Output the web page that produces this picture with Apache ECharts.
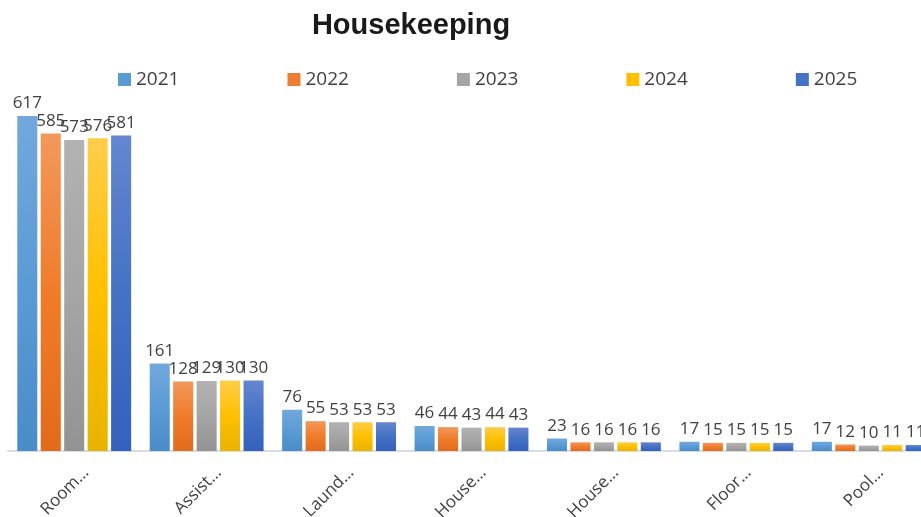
<!DOCTYPE html>
<html><head><meta charset="utf-8">
<script src="https://cdn.jsdelivr.net/npm/echarts@6/dist/echarts.min.js"></script>
<style>html,body{margin:0;padding:0;background:#fff}#c{width:921px;height:517px}</style>
</head><body><div id="c"></div>
<script>
const categories = ["Room…", "Assist…", "Laund…", "House…", "House…", "Floor…", "Pool…"];
const seriesNames = ["2021", "2022", "2023", "2024", "2025"];
const v2021 = [617, 161, 76, 46, 23, 17, 17];
const v2022 = [585, 128, 55, 44, 16, 15, 12];
const v2023 = [573, 129, 53, 43, 16, 15, 10];
const v2024 = [576, 130, 53, 44, 16, 15, 11];
const v2025 = [581, 130, 53, 43, 16, 15, 11];
const values = [v2021, v2022, v2023, v2024, v2025];

const palettes = [
  ["#72a8dc", "#5b9bd5", "#4a8cc8"],
  ["#f2985c", "#f07c2a", "#e26b1b"],
  ["#b2b2b2", "#a5a5a5", "#939393"],
  ["#ffcd4a", "#ffc000", "#e8b300"],
  ["#6586cf", "#4472c4", "#3361bd"]
];
const legendColors = ["#5b9bd5", "#ed7d31", "#a5a5a5", "#ffc000", "#4472c4"];

function grad(p){
  return new echarts.graphic.LinearGradient(0,0,0,1,[
    {offset:0,color:p[0]},{offset:0.5,color:p[1]},{offset:1,color:p[2]}]);
}

const chart = echarts.init(document.getElementById('c'));
chart.setOption({
  animation:false,
  title:{text:"Housekeeping", left:406, top:6, textAlign:'center',
    textStyle:{fontFamily:"Liberation Sans, Arial", fontWeight:'bold', fontSize:29, color:'#1a1a1a'}},
  legend:{top:70, left:118, width:800, padding:0, itemGap:108, itemWidth:13, itemHeight:13, icon:'rect',
    data: seriesNames.map((n,i)=>({name:n, itemStyle:{color:legendColors[i]}})),
    textStyle:{fontFamily:"Open Sans, Liberation Sans", fontSize:19, color:'#404040'}},
  grid:{left:8, width:927, top:71, bottom:66, containLabel:false, outerBoundsMode:'none'},
  xAxis:{type:'category', data:categories,
    axisLine:{lineStyle:{color:'#d9dde3', width:2}}, axisTick:{show:false},
    axisLabel:{rotate:45, interval:0, margin:31, padding:[0,-17,0,0], fontFamily:"Open Sans, Liberation Sans", fontSize:17, color:'#404040'}},
  yAxis:{type:'value', min:0, max:700, show:false, splitLine:{show:false}},
  series: seriesNames.map((n,i)=>({
    name:n, type:'bar', data:values[i], barGap:'17%', barCategoryGap:'14%',
    itemStyle:{color:grad(palettes[i])},
    label:{show:true, position:'top', distance:4, fontFamily:"Open Sans, Liberation Sans", fontSize:17, color:'#404040'}
  }))
});
</script></body></html>
